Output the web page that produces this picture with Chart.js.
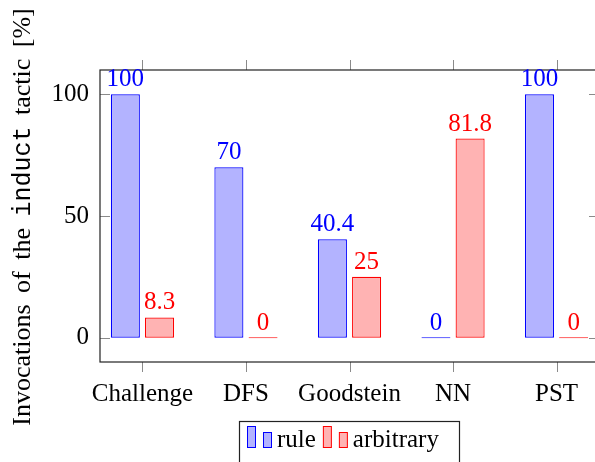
<!DOCTYPE html>
<html>
<head>
<meta charset="utf-8">
<script src="https://cdn.jsdelivr.net/npm/chart.js@4.4.0/dist/chart.umd.min.js"></script>
<style>
html, body { margin: 0; padding: 0; overflow: hidden; background: #fff; }
canvas { display: block; }
</style>
</head>
<body>
<canvas id="myChart" width="600" height="462"></canvas>
<script>
let categories = ['Challenge', 'DFS', 'Goodstein', 'NN', 'PST'];
let ruleValues = [100, 70, 40.4, 0, 100];
let arbitraryValues = [8.3, 0, 25, 81.8, 0];
let seriesNames = ['rule', 'arbitrary'];
let yTicks = [0, 50, 100];

const serif = "'Liberation Serif', 'Times New Roman', serif";
const mono = "'Liberation Mono', 'DejaVu Sans Mono', monospace";

// frame, tick marks, value labels, rotated title and legend (pgfplots look)
const pgfLook = {
    id: 'pgfLook',
    afterDatasetsDraw(chart) {
        const ctx = chart.ctx, a = chart.chartArea;
        const xs = chart.scales.x, ys = chart.scales.y;
        ctx.save();

        ctx.strokeStyle = '#8a8a8a';
        ctx.lineWidth = 1;
        ctx.beginPath();
        xs.ticks.forEach(t => {
            const px = Math.round(xs.getPixelForValue(t.value)) + 0.5;
            ctx.moveTo(px, a.top); ctx.lineTo(px, a.top - 10);
            ctx.moveTo(px, a.bottom); ctx.lineTo(px, a.bottom + 10);
        });
        ys.ticks.forEach(t => {
            const py = Math.round(ys.getPixelForValue(t.value)) + 0.5;
            ctx.moveTo(a.left, py); ctx.lineTo(a.left + 10, py);
            ctx.moveTo(a.right, py); ctx.lineTo(a.right - 10, py);
        });
        ctx.stroke();

        ctx.strokeStyle = '#222';
        ctx.lineWidth = 1.2;
        ctx.strokeRect(a.left, a.top, a.right - a.left, a.bottom - a.top);

        // values on top of bars
        ctx.font = '25px ' + serif;
        ctx.textAlign = 'center';
        ctx.textBaseline = 'alphabetic';
        chart.data.datasets.forEach((ds, i) => {
            ctx.fillStyle = ds.borderColor;
            chart.getDatasetMeta(i).data.forEach((bar, j) => {
                const v = ds.data[j].y;
                ctx.fillText(String(v), bar.x, ys.getPixelForValue(v) - 8);
            });
        });

        // y axis title with typewriter word, TeX-like wide word spacing
        const words = [['Invocations', serif], ['of', serif], ['the', serif], ['induct', mono], ['tactic', serif], ['[%]', serif]];
        const gap = 11.5;
        ctx.save();
        ctx.translate(29.5, (a.top + a.bottom) / 2 + 1);
        ctx.rotate(-Math.PI / 2);
        ctx.fillStyle = '#000';
        ctx.textAlign = 'left';
        let total = gap * (words.length - 1);
        words.forEach(w => { ctx.font = (w[1] === mono ? '25px ' : '26px ') + w[1]; total += ctx.measureText(w[0]).width; });
        let cx = -total / 2;
        words.forEach(w => {
            ctx.font = (w[1] === mono ? '25px ' : '26px ') + w[1];
            ctx.fillText(w[0], cx, 0);
            cx += ctx.measureText(w[0]).width + gap;
        });
        ctx.restore();

        // legend box
        ctx.strokeStyle = '#222';
        ctx.lineWidth = 1.2;
        ctx.strokeRect(239.5, 421.5, 220, 60);
        ctx.font = '25px ' + serif;
        ctx.textAlign = 'left';
        let lx = 247;
        chart.data.datasets.forEach(ds => {
            ctx.fillStyle = ds.backgroundColor;
            ctx.strokeStyle = ds.borderColor;
            ctx.lineWidth = 1;
            ctx.fillRect(lx + 0.5, 426.5, 8, 21);
            ctx.strokeRect(lx + 0.5, 426.5, 8, 21);
            ctx.fillRect(lx + 16.5, 432.5, 8, 15);
            ctx.strokeRect(lx + 16.5, 432.5, 8, 15);
            ctx.fillStyle = '#000';
            ctx.fillText(ds.label, lx + 30, 447);
            lx += 30 + ctx.measureText(ds.label).width + 7;
        });

        ctx.restore();
    }
};

let myChart = document.getElementById('myChart').getContext('2d');

let barChart = new Chart(myChart, {
    type: 'bar',
    data: {
        datasets: [{
            label: seriesNames[0],
            data: ruleValues.map((v, i) => ({ x: i, y: v })),
            backgroundColor: '#b3b3ff',
            borderColor: '#0000ff',
            borderWidth: 1.2,
            borderSkipped: false,
            minBarLength: 1,
            categoryPercentage: 0.66,
            barPercentage: 0.85
        }, {
            label: seriesNames[1],
            data: arbitraryValues.map((v, i) => ({ x: i, y: v })),
            backgroundColor: '#ffb3b3',
            borderColor: '#ff0000',
            borderWidth: 1.2,
            borderSkipped: false,
            minBarLength: 1,
            categoryPercentage: 0.66,
            barPercentage: 0.85
        }]
    },
    options: {
        responsive: false,
        animation: false,
        layout: { padding: { top: 70, right: 1, left: 0, bottom: 0 } },
        scales: {
            x: {
                type: 'linear',
                offset: false,
                min: -0.41,
                max: 4.41,
                afterBuildTicks: s => { s.ticks = categories.map((c, i) => ({ value: i })); },
                afterFit: s => { s.height = 100; },
                grid: { display: false, drawTicks: false, offset: false },
                border: { display: false },
                ticks: {
                    callback: v => categories[v],
                    autoSkip: false,
                    maxRotation: 0,
                    padding: 17,
                    color: '#000',
                    font: { family: serif, size: 25 }
                }
            },
            y: {
                min: -10,
                max: 110,
                afterBuildTicks: s => { s.ticks = yTicks.map(v => ({ value: v })); },
                afterFit: s => { s.width = 100; },
                grid: { display: false, drawTicks: false },
                border: { display: false },
                ticks: {
                    padding: 11,
                    color: '#000',
                    font: { family: serif, size: 25 }
                }
            }
        },
        plugins: {
            legend: { display: false },
            tooltip: { enabled: false }
        }
    },
    plugins: [pgfLook]
});
</script>
</body>
</html>
